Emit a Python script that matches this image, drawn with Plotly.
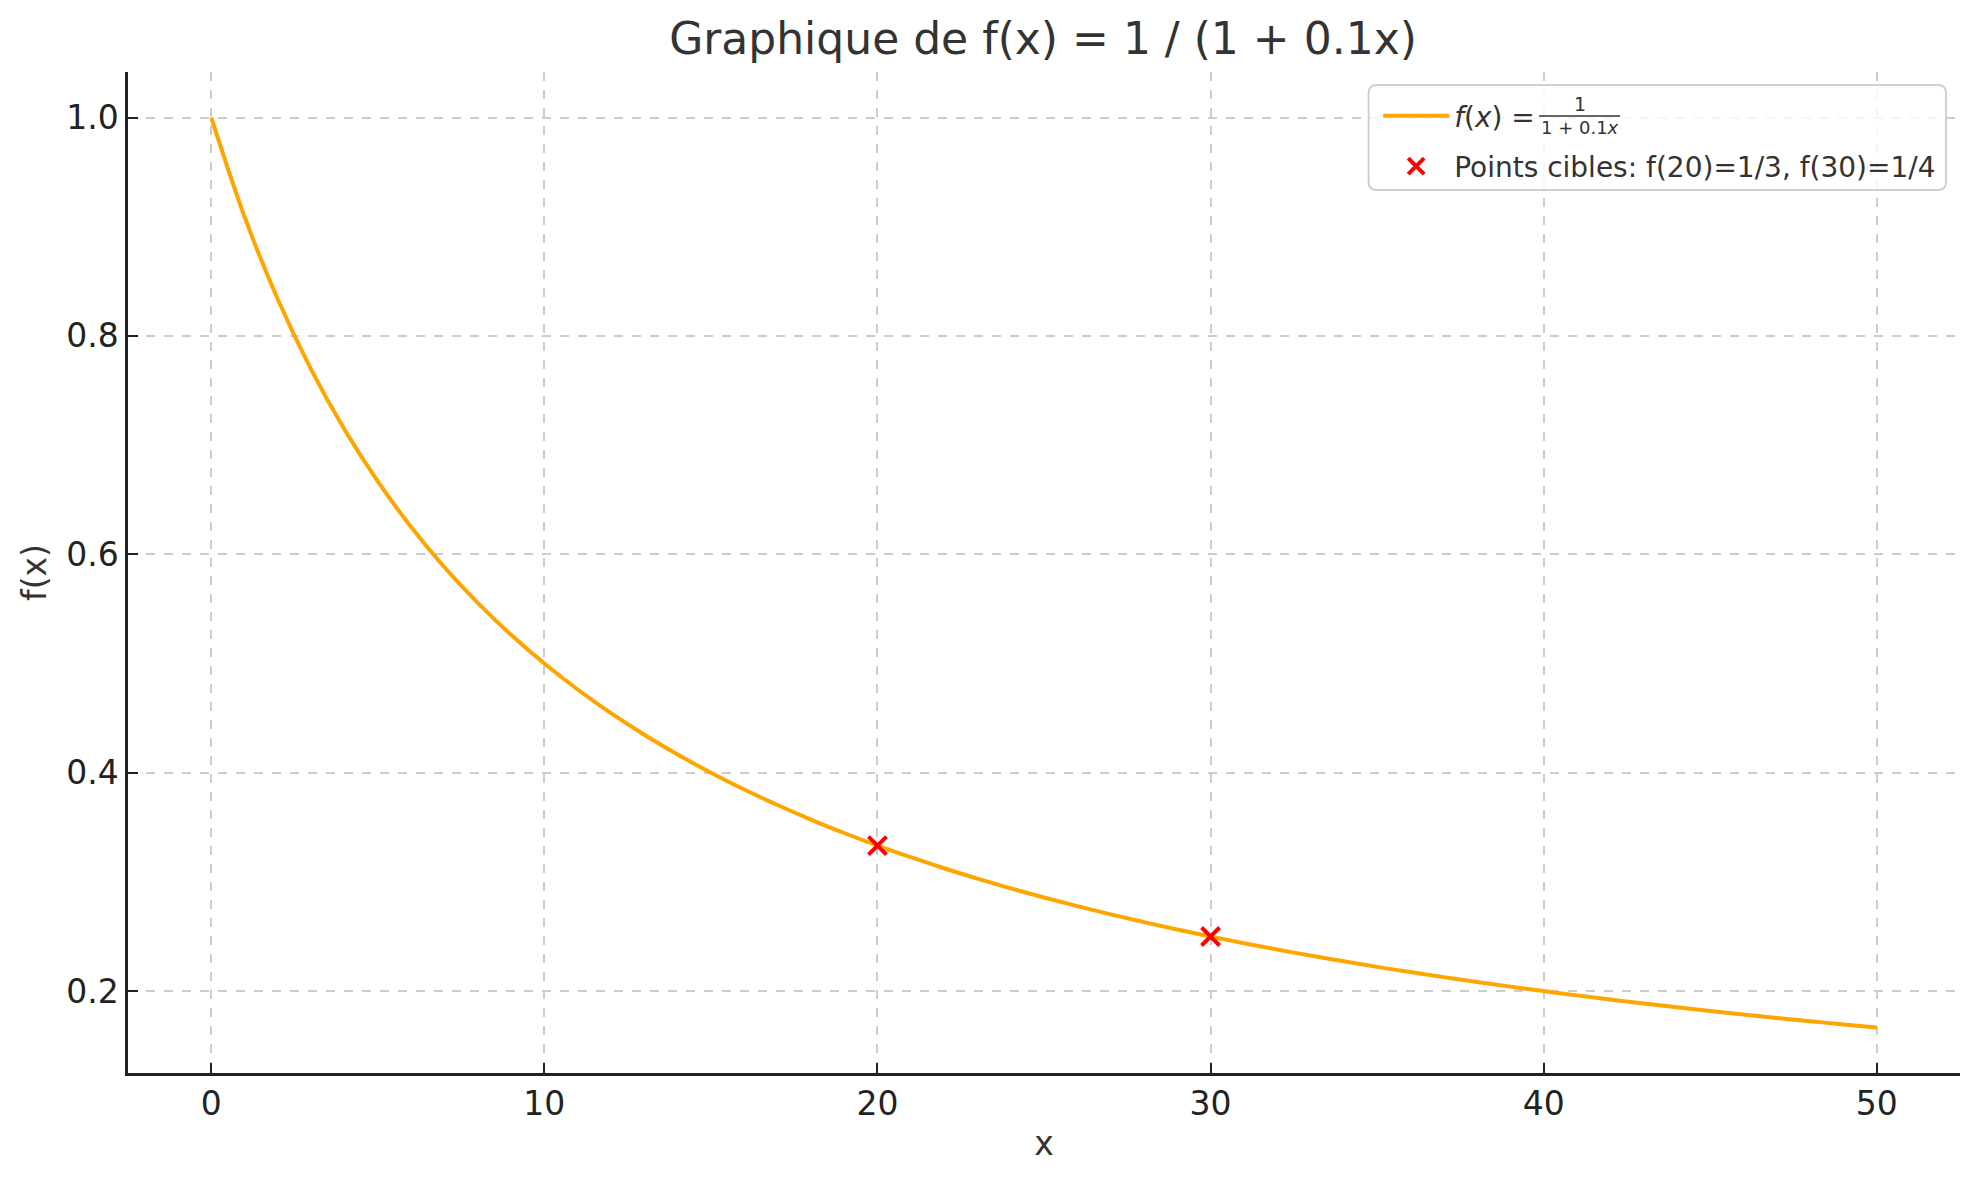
import plotly.graph_objects as go

# Curve values
x_vals = list(range(0, 51))
y_vals = [1.0000, 0.9091, 0.8333, 0.7692, 0.7143, 0.6667, 0.6250, 0.5882, 0.5556, 0.5263,
          0.5000, 0.4762, 0.4545, 0.4348, 0.4167, 0.4000, 0.3846, 0.3704, 0.3571, 0.3448,
          0.3333, 0.3226, 0.3125, 0.3030, 0.2941, 0.2857, 0.2778, 0.2703, 0.2632, 0.2564,
          0.2500, 0.2439, 0.2381, 0.2326, 0.2273, 0.2222, 0.2174, 0.2128, 0.2083, 0.2041,
          0.2000, 0.1961, 0.1923, 0.1887, 0.1852, 0.1818, 0.1786, 0.1754, 0.1724, 0.1695,
          0.1667]

# Target points
pts_x = [20, 30]
pts_y = [0.3333, 0.25]

x_ticks = [0, 10, 20, 30, 40, 50]
y_ticks = [0.2, 0.4, 0.6, 0.8, 1.0]

title_text = "Graphique de f(x) = 1 / (1 + 0.1x)"
curve_name = "<i>f</i>(<i>x</i>) = "
pts_name = "Points cibles: f(20)=1/3, f(30)=1/4"

FONT = "DejaVu Sans"

fig = go.Figure()
fig.add_trace(go.Scatter(
    x=x_vals, y=y_vals, mode="lines", name=curve_name,
    line=dict(color="#FFA500", width=4, shape="spline", smoothing=1.0),
    legendgroup="a",
))
fig.add_trace(go.Scatter(
    x=pts_x, y=pts_y, mode="markers", name=pts_name,
    marker=dict(symbol="x-thin", size=18, color="red",
                line=dict(color="red", width=4)),
    legendgroup="b",
))

# figure is drawn inside the page body (8px margin)
W, H = 1963, 1164
L, R, T, B = 119.5, 1952, 64, 1065

def px(X):
    return (X - L) / (R - L)

def py(Y):
    return (B - Y) / (B - T)

axis_common = dict(
    showline=True, linecolor="#222222", linewidth=2.5,
    ticks="inside", ticklen=10, tickwidth=2.2, tickcolor="#222222",
    showgrid=True, gridcolor="#cccccc", gridwidth=1.5, griddash="dash",
    zeroline=False, mirror=False,
    tickfont=dict(family=FONT, size=33, color="#222222"),
)

fig.update_layout(
    width=W, height=H,
    margin=dict(l=L, r=W - R, t=T, b=H - B),
    paper_bgcolor="white", plot_bgcolor="white",
    title=dict(text=title_text, xref="container", x=1035 / W, xanchor="center",
               yref="container", y=1 - 31 / H, yanchor="middle",
               font=dict(family=FONT, size=44, color="#333333")),
    xaxis=dict(range=[-2.5, 52.5], tickvals=x_ticks,
               title=dict(text="x", font=dict(family=FONT, size=33, color="#333333"), standoff=10),
               **axis_common),
    yaxis=dict(range=[0.125, 1.0417], tickvals=y_ticks, tickformat=".1f",
               title=dict(text="f(x)", font=dict(family=FONT, size=33, color="#333333"), standoff=10),
               **axis_common),
    legend=dict(x=px(1370), xanchor="left", y=py(83), yanchor="top",
                bgcolor="rgba(0,0,0,0)", borderwidth=0, itemwidth=66,
                font=dict(family=FONT, size=28, color="#333333"),
                traceorder="grouped", tracegroupgap=11),
    showlegend=True,
)

# Legend frame (rounded rectangle)
bx0, bx1, by0, by1, rr = 1360.5, 1938, 77, 182, 8
path = (f"M {px(bx0+rr)},{py(by0)} L {px(bx1-rr)},{py(by0)} Q {px(bx1)},{py(by0)} {px(bx1)},{py(by0+rr)} "
        f"L {px(bx1)},{py(by1-rr)} Q {px(bx1)},{py(by1)} {px(bx1-rr)},{py(by1)} "
        f"L {px(bx0+rr)},{py(by1)} Q {px(bx0)},{py(by1)} {px(bx0)},{py(by1-rr)} "
        f"L {px(bx0)},{py(by0+rr)} Q {px(bx0)},{py(by0)} {px(bx0+rr)},{py(by0)} Z")
fig.add_shape(type="path", xref="paper", yref="paper", path=path,
              fillcolor="rgba(255,255,255,0.8)", line=dict(color="#d0d0d0", width=2),
              layer="above")

# Fraction in legend label
fig.add_annotation(xref="paper", yref="paper", x=px(1572), y=py(96),
                   text="1", showarrow=False, xanchor="center", yanchor="middle",
                   font=dict(family=FONT, size=19, color="#333333"))
fig.add_annotation(xref="paper", yref="paper", x=px(1572), y=py(119),
                   text="1 + 0.1<i>x</i>", showarrow=False, xanchor="center", yanchor="middle",
                   font=dict(family=FONT, size=18, color="#333333"))
fig.add_shape(type="line", xref="paper", yref="paper",
              x0=px(1531), x1=px(1612), y0=py(108), y1=py(108),
              line=dict(color="#333333", width=1.5))

fig.write_html("out.html")
